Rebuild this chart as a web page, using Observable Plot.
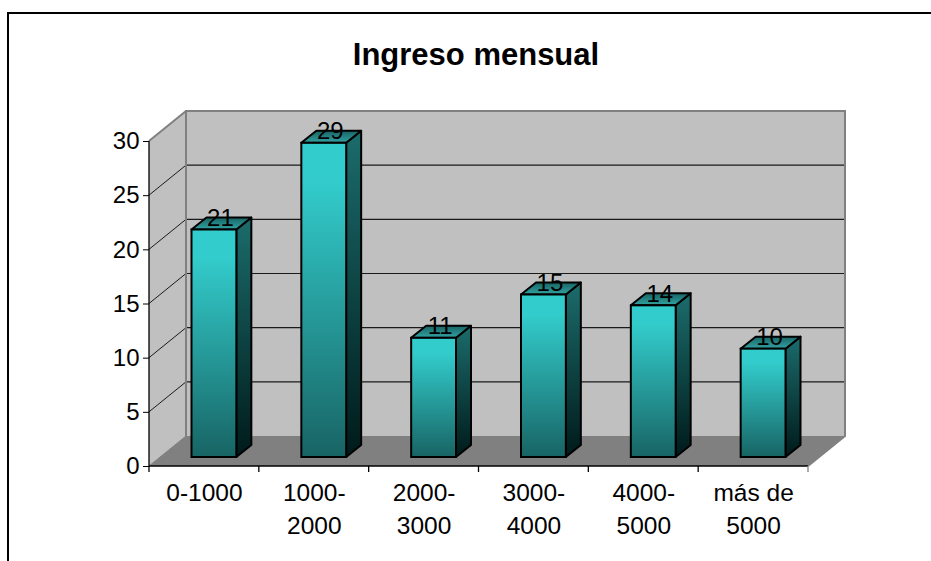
<!DOCTYPE html>
<html>
<head>
<meta charset="utf-8">
<script src="https://cdn.jsdelivr.net/npm/d3@7"></script>
<script src="https://cdn.jsdelivr.net/npm/@observablehq/plot@0.6"></script>
<style>
  html, body { margin: 0; padding: 0; background: #fff; overflow: hidden; }
  #page { position: relative; width: 931px; height: 561px; overflow: hidden; }
  #frame { position: absolute; left: 7px; top: 12px; right: 0; bottom: 0;
           border-top: 2px solid #000; border-left: 2px solid #000; }
  #title { position: relative; height: 90px; box-sizing: border-box; padding-top: 38px; padding-right: 0;
           width: 952px; text-align: center; font: bold 31px/34px "Liberation Sans", Arial, sans-serif; color: #000; }
  #chart { position: relative; }
</style>
</head>
<body>
<div id="page">
  <div id="frame"></div>
  <div id="title">Ingreso mensual</div>
  <div id="chart"></div>
</div>
<script>
const categories = ["0-1000", "1000-2000", "2000-3000", "3000-4000", "4000-5000", "más de 5000"];
const tickLabels = ["0-1000", "1000-\n2000", "2000-\n3000", "3000-\n4000", "4000-\n5000", "más de\n5000"];
const values = [21, 29, 11, 15, 14, 10];
const yTicks = [0, 5, 10, 15, 20, 25, 30];

const rows = categories.map((c, i) => ({category: c, value: values[i]}));

const wallDx = 37, wallDy = -30;     // depth of the 3D box
const barDx = 10, barDy = -9;        // bar front face, set back from the front plane
const sideDx = 15, sideDy = -12;     // depth of one bar
const barInset = 32.5;

const NS = "http://www.w3.org/2000/svg";
function el(name, attrs, parent) {
  const e = document.createElementNS(NS, name);
  for (const k in attrs) e.setAttribute(k, attrs[k]);
  if (parent) parent.appendChild(e);
  return e;
}
const pts = a => a.map(p => p.join(",")).join(" ");
const bandOf = scales => scales.x(categories[1]) - scales.x(categories[0]);

function gradient(defs, id, stops) {
  const g = el("linearGradient", {id, x1: 0, y1: 0, x2: 0, y2: 1}, defs);
  stops.forEach(([o, c]) => el("stop", {offset: o, "stop-color": c}, g));
}

// walls, floor, gridlines (positions from the plot's scales)
function box(index, scales) {
  const g = el("g", {});
  const defs = el("defs", {}, g);
  gradient(defs, "front", [[0, "#33cccc"], [0.12, "#33cccc"], [1, "#186464"]]);
  gradient(defs, "side", [[0, "#1c6c6c"], [1, "#001a1a"]]);
  gradient(defs, "top", [[0, "#186464"], [1, "#33a3a3"]]);
  const bw = bandOf(scales);
  const x0 = scales.x(categories[0]), x1 = scales.x(categories[categories.length - 1]) + bw;
  const y0 = scales.y(0), y1 = scales.y(30);
  const W = wallDx, D = wallDy, gray = "#808080";
  el("polygon", {points: pts([[x0 + W, y1 + D], [x1 + W, y1 + D], [x1 + W, y0 + D], [x0 + W, y0 + D]]), fill: "#c0c0c0"}, g);
  el("polygon", {points: pts([[x0, y1], [x0 + W, y1 + D], [x0 + W, y0 + D], [x0, y0]]), fill: "#c0c0c0"}, g);
  el("polygon", {points: pts([[x0, y0], [x1, y0], [x1 + W, y0 + D], [x0 + W, y0 + D]]), fill: "#808080"}, g);
  for (const v of yTicks.slice(1, -1)) {
    el("line", {x1: x0 + W, x2: x1 + W, y1: scales.y(v) + D, y2: scales.y(v) + D, stroke: "#1a1a1a", "stroke-width": 1.2}, g);
    el("line", {x1: x0, x2: x0 + W, y1: scales.y(v), y2: scales.y(v) + D, stroke: "#1a1a1a", "stroke-width": 1}, g);
  }
  el("polyline", {points: pts([[x0 + W, y0 + D], [x0 + W, y1 + D], [x1 + W, y1 + D], [x1 + W, y0 + D], [x1, y0]]),
    fill: "none", stroke: gray, "stroke-width": 2}, g);
  el("line", {x1: x0, y1, x2: x0 + W, y2: y1 + D, stroke: gray, "stroke-width": 2}, g);
  el("line", {x1: x0 + W, y1: y0 + D, x2: x0, y2: y0, stroke: gray, "stroke-width": 1}, g);
  return g;
}

// right and upper faces of every bar
function barFaces(index, scales) {
  const g = el("g", {stroke: "#000", "stroke-width": 2, "stroke-linejoin": "round"});
  const bw = bandOf(scales);
  for (const r of rows) {
    const l = scales.x(r.category) + barInset + barDx;
    const rx = scales.x(r.category) + bw - barInset + barDx;
    const t = scales.y(r.value) + barDy, b = scales.y(0) + barDy;
    el("polygon", {points: pts([[rx, t], [rx + sideDx, t + sideDy], [rx + sideDx, b + sideDy], [rx, b]]), fill: "url(#side)"}, g);
    el("polygon", {points: pts([[l, t], [l + sideDx, t + sideDy], [rx + sideDx, t + sideDy], [rx, t]]), fill: "url(#top)"}, g);
  }
  return g;
}

// front axis lines and the ticks between categories
function frontAxes(index, scales) {
  const g = el("g", {stroke: "#000", "stroke-width": 1.3});
  const bw = bandOf(scales);
  const x0 = scales.x(categories[0]), y0 = scales.y(0);
  const x1 = scales.x(categories[categories.length - 1]) + bw;
  el("line", {x1: x0, x2: x1, y1: y0, y2: y0}, g);
  el("line", {x1: x0, x2: x0, y1: y0, y2: scales.y(30)}, g);
  categories.forEach(c => el("line", {x1: scales.x(c), x2: scales.x(c), y1: y0, y2: y0 + 6}, g));
  el("line", {x1, x2: x1, y1: y0, y2: y0 + 6, stroke: "#808080"}, g);
  return g;
}

const chart = Plot.plot({
  width: 931,
  height: 471,
  marginLeft: 149,
  marginRight: 123,
  marginTop: 51,
  marginBottom: 95,
  style: {background: "transparent", fontFamily: "'Liberation Sans', Arial, sans-serif", overflow: "visible", color: "#000"},
  x: {type: "band", domain: categories, padding: 0, round: false, label: null},
  y: {domain: [0, 30], label: null},
  marks: [
    box,
    barFaces,
    Plot.barY(rows, {x: "category", y: "value", insetLeft: barInset, insetRight: barInset,
      dx: barDx, dy: barDy, fill: "url(#front)", stroke: "#000", strokeWidth: 2}),
    frontAxes,
    Plot.axisY({ticks: yTicks, tickSize: 6, tickPadding: 4, fontSize: 24, label: null, stroke: "#000", fill: "#000", textStroke: "none"}),
    Plot.axisX({tickSize: 0, tickPadding: 11, fontSize: 24.5, label: null, lineHeight: 1.35, fill: "#000",
      tickFormat: d => tickLabels[categories.indexOf(d)]}),
    Plot.text(rows, {x: "category", y: "value", text: d => String(d.value), fontSize: 24, fill: "#000",
      dx: barDx + 6, dy: barDy - 12})
  ]
});
// tick labels sit slightly above their tick marks in the reference
document.getElementById("chart").appendChild(chart);
</script>
</body>
</html>
